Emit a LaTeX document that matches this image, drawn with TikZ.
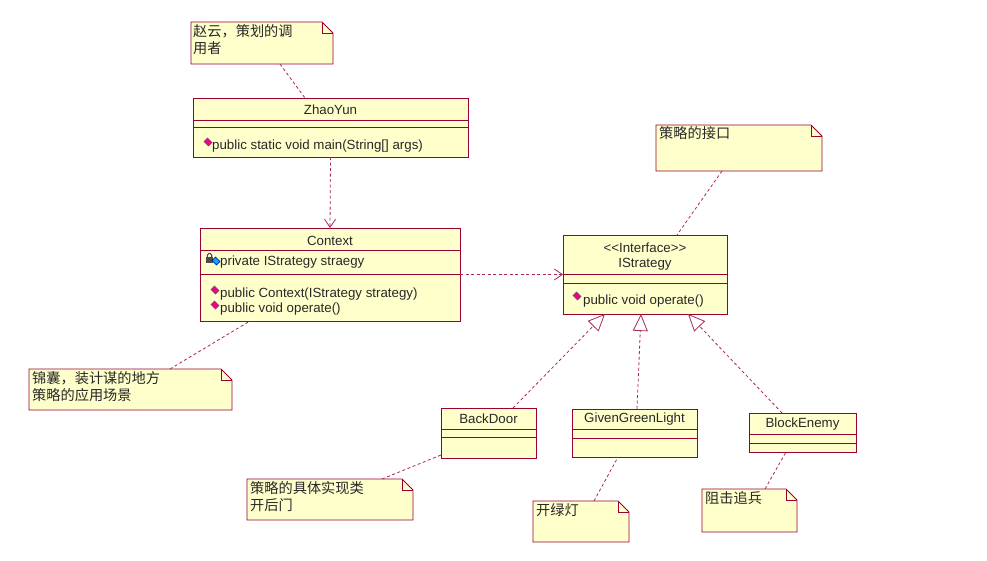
\documentclass[tikz,border=0pt]{standalone}
\usepackage{fontspec}
\setmainfont{Liberation Sans}
\newfontfamily\cjk{Noto Sans CJK SC}
\usetikzlibrary{arrows.meta,calc}
\definecolor{umlborder}{RGB}{153,0,51}
\definecolor{umlfill}{RGB}{255,255,204}
\definecolor{umldash}{RGB}{170,40,90}
\definecolor{umltext}{RGB}{40,40,40}

\newcommand{\umlclass}[7]{%
  \node[classbox, minimum width=#4-#2, minimum height=#5-#3] (#1) at (#2,#3) {};
  \draw[umlborder, line width=0.9pt] (#2,#6) -- (#4,#6) (#2,#7) -- (#4,#7);
}
\newcommand{\umlnote}[5]{%
  \node[notebg, minimum width=#4-#2, minimum height=#5-#3] (#1) at (#2,#3) {};
  \filldraw[draw=umlborder, fill=umlfill, line width=0.9pt] (#2,#3) -- ({#4-11},#3) -- (#4,{#3+11}) -- (#4,#5) -- (#2,#5) -- cycle;
  \draw[umlborder, line width=0.7pt] ({#4-11},#3) -- ({#4-11},{#3+11}) -- (#4,{#3+11});
}
\newcommand{\opicon}[2]{%
  \filldraw[draw=black!60!magenta, fill=magenta, line width=0.4pt] (#1,#2) +(-4,-0.5) -- +(-0.5,-4) -- +(4,0.5) -- +(0.5,4) -- cycle;
}

\begin{document}
\begin{tikzpicture}[x=1pt,y=-1pt,
  classbox/.style={draw=umlborder, fill=umlfill, line width=0.9pt, anchor=north west, inner sep=0pt, outer sep=0pt},
  notebg/.style={draw=none, anchor=north west, inner sep=0pt, outer sep=0pt},
  cls/.style={font=\fontsize{13.3}{15}\selectfont, text=umltext, inner sep=0pt},
  clsl/.style={cls, anchor=west},
  notetext/.style={font=\fontsize{14.2}{17}\cjk, text=umltext, anchor=north west, align=left, inner sep=0pt},
  conn/.style={draw=umldash, line width=0.8pt, dash pattern=on 3pt off 2.5pt},
  dep/.style={conn, -{Straight Barb[length=8pt,width=11pt]}},
  real/.style={conn, -{Triangle[fill=white,length=17pt,width=15pt]}},
]
\fill[white] (0,0) rectangle (987,560);
\useasboundingbox (0,0) rectangle (987,560);

% ---------- classes ----------
\umlclass{zhao}{193}{98}{468}{157}{120}{127}
\node[cls] (zhaoname) at (330.5,110) {ZhaoYun};
\opicon{208}{142}
\node[clsl] (zhaom) at (212,146) {public static void main(String[] args)};

\umlclass{ctx}{200}{228}{460}{321}{250}{274}
\node[cls] (ctxname) at (330,240.5) {Context};
\fill[gray!60!black] (206,257) rectangle (213,263);
\draw[gray!60!black, line width=1.1pt, rounded corners=1.5pt] (207.3,257) -- (207.3,253.5) -- (211.7,253.5) -- (211.7,257);
\filldraw[draw=blue!60!black, fill=cyan, line width=0.4pt] (216,261) +(-4,-0.5) -- +(-0.5,-4) -- +(4,0.5) -- +(0.5,4) -- cycle;
\node[clsl] (ctxa) at (220,262) {private IStrategy straegy};
\opicon{215}{290}
\node[clsl] (ctxm1) at (220,294) {public Context(IStrategy strategy)};
\opicon{215}{305}
\node[clsl] (ctxm2) at (220,309) {public void operate()};

\umlclass{istr}{563}{235}{727}{314}{274}{283}
\node[cls] (istrst) at (645,248) {<{}<Interface>{}>};
\node[cls] (istrname) at (645,264) {IStrategy};
\opicon{577}{296}
\node[clsl] (istrm) at (583,301) {public void operate()};

\umlclass{back}{441}{408}{536}{458}{429}{437}
\node[cls] (backname) at (488.5,419) {BackDoor};

\umlclass{green}{572}{409}{697}{457}{429}{438}
\node[cls] (greenname) at (634.5,419) {GivenGreenLight};

\umlclass{block}{749}{413}{856}{452}{434}{443}
\node[cls] (blockname) at (802.5,424) {BlockEnemy};

% ---------- notes ----------
\umlnote{n1}{191}{22}{333}{64}
\node[notetext] (n1t) at (193,24) {赵云，策划的调\\用者};

\umlnote{n2}{656}{125}{822}{171}
\node[notetext] (n2t) at (659,126) {策略的接口};

\umlnote{n3}{29}{369}{232}{410}
\node[notetext] (n3t) at (32,371) {锦囊，装计谋的地方\\策略的应用场景};

\umlnote{n4}{247}{479}{413}{520}
\node[notetext] (n4t) at (250,481) {策略的具体实现类\\开后门};

\umlnote{n5}{533}{501}{629}{542}
\node[notetext] (n5t) at (536,503) {开绿灯};

\umlnote{n6}{702}{489}{797}{532}
\node[notetext] (n6t) at (705,491) {阻击追兵};

% ---------- connectors ----------
\draw[dep] (zhao.south) -- (ctx.north);
\draw[dep] (ctx.east) -- (istr.west);

\draw[real] ([xshift=72pt]back.north west) -- ([xshift=42pt]istr.south west);
\draw[real] ([xshift=65pt]green.north west) -- ([xshift=78pt]istr.south west);
\draw[real] ([xshift=33pt]block.north west) -- ([xshift=125pt]istr.south west);

\draw[conn] ([xshift=89pt]n1.south west) -- ([xshift=112pt]zhao.north west);
\draw[conn] ([xshift=66pt]n2.south west) -- ([xshift=114pt]istr.north west);
\draw[conn] ([xshift=141pt]n3.north west) -- ([xshift=50pt]ctx.south west);
\draw[conn] ([xshift=135pt]n4.north west) -- ([yshift=3pt]back.south west);
\draw[conn] ([xshift=61pt]n5.north west) -- ([xshift=46pt]green.south west);
\draw[conn] ([xshift=63pt]n6.north west) -- ([xshift=37pt]block.south west);
\end{tikzpicture}
\end{document}
